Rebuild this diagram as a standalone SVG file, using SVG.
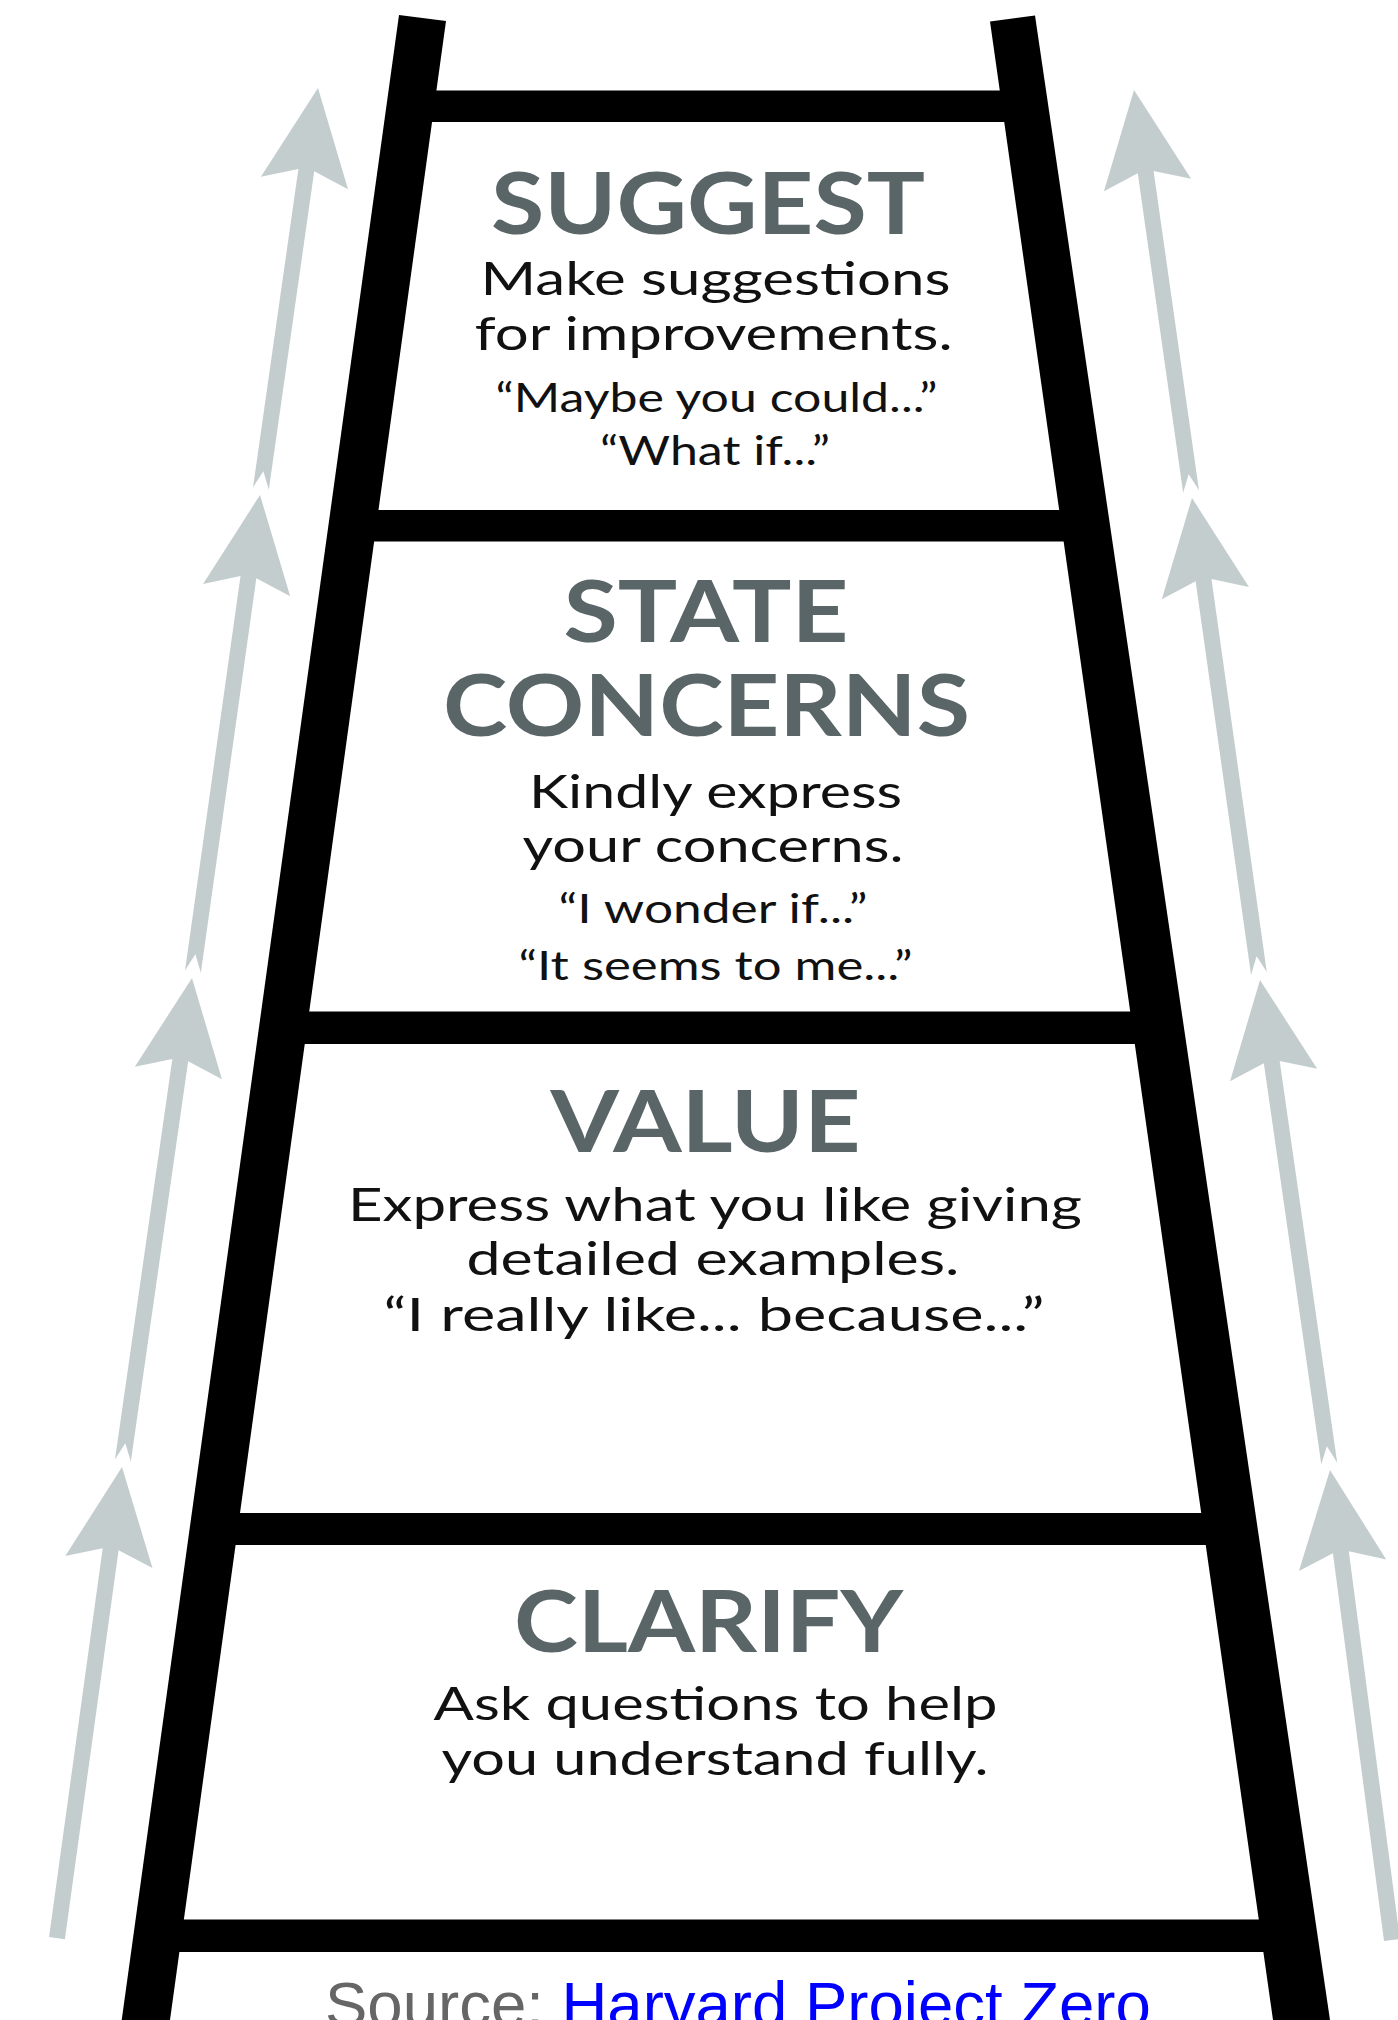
<svg xmlns="http://www.w3.org/2000/svg" width="1398" height="2020" viewBox="0 0 1398 2020">
<style>
.ink{fill:#000}
.shaft{stroke:#c4cdce;stroke-width:16;fill:none}
.head{fill:#c4cdce}
.ko{fill:#fff;stroke:#fff;stroke-width:20;stroke-linejoin:miter}
.h{font-family:Lato,"Open Sans","DejaVu Sans",sans-serif;font-weight:700;font-size:86px;fill:#596567;text-anchor:middle}
.b{font-family:Lato,"Open Sans","DejaVu Sans",sans-serif;font-size:46px;fill:#111;text-anchor:middle}
.q{font-family:Lato,"Open Sans","DejaVu Sans",sans-serif;font-size:40px;fill:#111;text-anchor:middle}
.src{font-family:"Liberation Sans",Arial,sans-serif;font-size:63.5px}
</style>
<defs>
<path id="ah" d="M0,0 L44,96 L8,83 L-8,83 L-44,96 Z"/>
</defs>
<rect width="1398" height="2020" fill="#fff"/>

<g id="connectors">
  <g id="arrows-left">
    <g transform="translate(318,88) rotate(8.11)"><line class="shaft" x1="0" y1="70" x2="0" y2="411.1"/><use href="#ah" class="head"/></g>
    <g transform="translate(260,495) rotate(8.01)"><use href="#ah" class="ko"/><line class="shaft" x1="0" y1="70" x2="0" y2="487.8"/><use href="#ah" class="head"/></g>
    <g transform="translate(192,978) rotate(8.15)"><use href="#ah" class="ko"/><line class="shaft" x1="0" y1="70" x2="0" y2="494"/><use href="#ah" class="head"/></g>
    <g transform="translate(122,1467) rotate(7.86)"><use href="#ah" class="ko"/><line class="shaft" x1="0" y1="70" x2="0" y2="475.5"/><use href="#ah" class="head"/></g>
  </g>
  <g id="arrows-right">
    <g transform="translate(1134,90) rotate(-8.09)"><line class="shaft" x1="0" y1="70" x2="0" y2="411.9"/><use href="#ah" class="head"/></g>
    <g transform="translate(1192,498) rotate(-8.01)"><use href="#ah" class="ko"/><line class="shaft" x1="0" y1="70" x2="0" y2="486.7"/><use href="#ah" class="head"/></g>
    <g transform="translate(1260,980) rotate(-8.15)"><use href="#ah" class="ko"/><line class="shaft" x1="0" y1="70" x2="0" y2="495"/><use href="#ah" class="head"/></g>
    <g transform="translate(1330,1470) rotate(-7.51)"><use href="#ah" class="ko"/><line class="shaft" x1="0" y1="70" x2="0" y2="474"/><use href="#ah" class="head"/></g>
  </g>
</g>

<g id="ladder">
  <rect class="ink" x="422" y="90.5" width="592" height="31.5"/>
  <rect class="ink" x="364" y="510" width="710" height="31.5"/>
  <rect class="ink" x="295" y="1011.5" width="850" height="32.5"/>
  <rect class="ink" x="226" y="1513" width="990" height="32"/>
  <rect class="ink" x="170" y="1919.5" width="1103" height="32.5"/>
  <polygon class="ink" points="399,15 446,21 170,2020 121.7,2020"/>
  <polygon class="ink" points="990,21.5 1035,15.5 1330,2020 1273,2020"/>
</g>

<g id="step-suggest">
  <text class="h" x="708" y="234" textLength="434" lengthAdjust="spacingAndGlyphs">SUGGEST</text>
  <text class="b" x="715.5" y="295" textLength="470" lengthAdjust="spacingAndGlyphs">Make suggestions</text>
  <text class="b" x="713.7" y="350" textLength="478" lengthAdjust="spacingAndGlyphs">for improvements.</text>
  <text class="q" x="716.5" y="411.7" textLength="442" lengthAdjust="spacingAndGlyphs">“Maybe you could...”</text>
  <text class="q" x="715" y="465" textLength="230" lengthAdjust="spacingAndGlyphs">“What if...”</text>
</g>

<g id="step-state-concerns">
  <text class="h" x="706" y="642" textLength="285" lengthAdjust="spacingAndGlyphs">STATE</text>
  <text class="h" x="706.5" y="736" textLength="527" lengthAdjust="spacingAndGlyphs">CONCERNS</text>
  <text class="b" x="715.5" y="808" textLength="373" lengthAdjust="spacingAndGlyphs">Kindly express</text>
  <text class="b" x="713" y="862" textLength="381" lengthAdjust="spacingAndGlyphs">your concerns.</text>
  <text class="q" x="713" y="923" textLength="309" lengthAdjust="spacingAndGlyphs">“I wonder if...”</text>
  <text class="q" x="715.5" y="980" textLength="394" lengthAdjust="spacingAndGlyphs">“It seems to me...”</text>
</g>

<g id="step-value">
  <text class="h" x="705.5" y="1152" textLength="310" lengthAdjust="spacingAndGlyphs">VALUE</text>
  <text class="b" x="715" y="1221" textLength="734" lengthAdjust="spacingAndGlyphs">Express what you like giving</text>
  <text class="b" x="713" y="1275" textLength="493" lengthAdjust="spacingAndGlyphs">detailed examples.</text>
  <text class="b" x="714" y="1331" textLength="661" lengthAdjust="spacingAndGlyphs">“I really like... because...”</text>
</g>

<g id="step-clarify">
  <text class="h" x="708.5" y="1652" textLength="389" lengthAdjust="spacingAndGlyphs">CLARIFY</text>
  <text class="b" x="715.5" y="1720" font-size="47" textLength="564" lengthAdjust="spacingAndGlyphs">Ask questions to help</text>
  <text class="b" x="715" y="1775" font-size="47" textLength="547" lengthAdjust="spacingAndGlyphs">you understand fully.</text>
</g>

<g id="source">
  <text class="src" x="325" y="2025.5"><tspan fill="#666666">Source: </tspan><tspan fill="#0000ff">Harvard Project Zero</tspan></text>
</g>
</svg>
